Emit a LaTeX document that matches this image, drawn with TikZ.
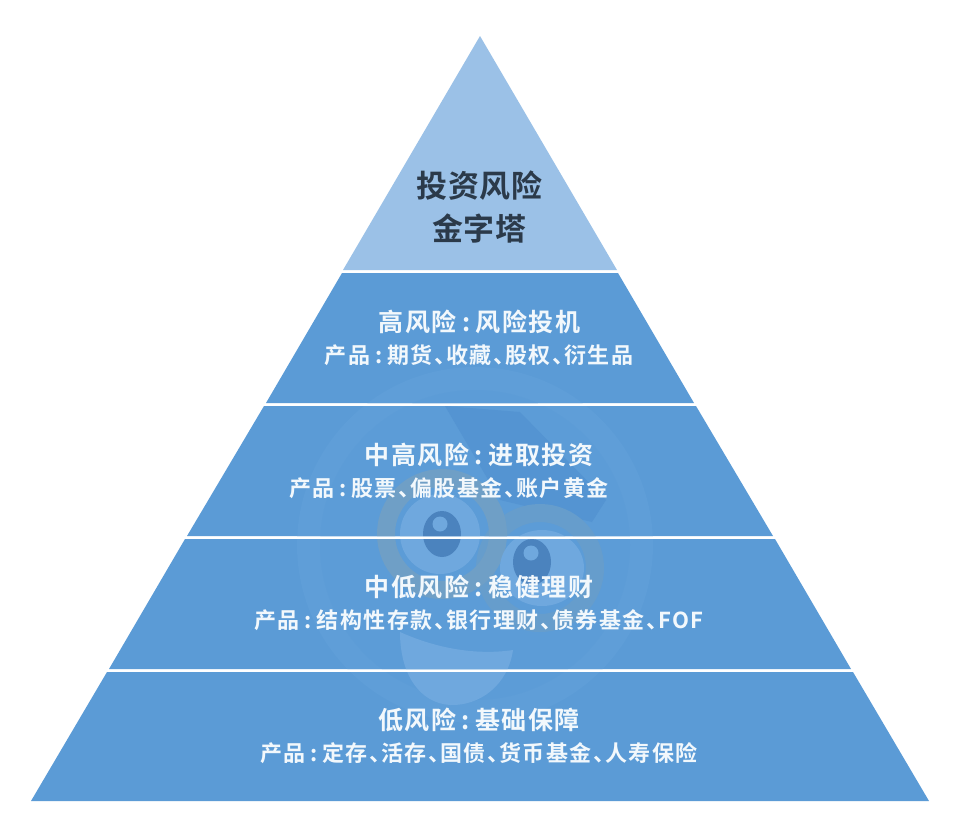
\documentclass[tikz,border=0pt]{standalone}
\usepackage{fontspec}
\setmainfont{Noto Sans CJK SC}
\newfontfamily\cjkhead[BoldFont=* Bold,LetterSpace=6]{Noto Sans CJK SC}
\newfontfamily\cjksub[BoldFont=* Bold,LetterSpace=7]{Noto Sans CJK SC}
\newfontfamily\cjktop[BoldFont=* Bold,LetterSpace=3]{Noto Sans CJK SC}
\newcommand{\BandTitle}{\fontsize{25}{28}\selectfont\cjkhead\bfseries}
\newcommand{\BandSub}{\fontsize{22}{25}\selectfont\cjksub\bfseries}
\newcommand{\TopTitle}{\fontsize{31}{36}\selectfont\cjktop\bfseries}
\newcommand{\cn}{\kern.22em:\kern.22em}
\newcommand{\dn}{、\kern-.46em}
\definecolor{topblue}{HTML}{9BC1E7}
\definecolor{bandblue}{HTML}{5B9BD6}
\definecolor{marklight}{HTML}{6FA8DE}
\definecolor{markwash}{HTML}{5F9ED8}
\definecolor{markhat}{HTML}{5494D2}
\definecolor{markdark}{HTML}{4B83BE}
\definecolor{markring}{HTML}{6F9FC6}
\definecolor{markringb}{HTML}{669DCC}
\definecolor{darktext}{HTML}{2B3A4A}
\definecolor{lighttext}{HTML}{F2F8FC}
\begin{document}
\begin{tikzpicture}[x=1pt,y=-1pt,
  cap1/.style={font=\TopTitle,text=darktext,inner sep=0pt},
  headline/.style={font=\BandTitle,text=lighttext,inner sep=0pt},
  subline/.style={font=\BandSub,text=lighttext,inner sep=0pt}]
\useasboundingbox (0,0) rectangle (960,839);
\fill[white] (0,0) rectangle (960,839);
% pyramid
\fill[topblue] (480,36) -- (617,270) -- (343,270) -- cycle;
\fill[bandblue] (342,273) -- (618,273) -- (694,403) -- (266,403) -- cycle;
\fill[bandblue] (264,406) -- (696,406) -- (773,536) -- (187,536) -- cycle;
\fill[bandblue] (185,539) -- (775,539) -- (851,669) -- (109,669) -- cycle;
\fill[bandblue] (107,672) -- (853,672) -- (929,801) -- (31,801) -- cycle;
% faint watermark, clipped to the bands
\begin{scope}
\clip (342,273) -- (618,273) -- (694,403) -- (266,403) -- cycle
      (264,406) -- (696,406) -- (773,536) -- (187,536) -- cycle
      (185,539) -- (775,539) -- (851,669) -- (109,669) -- cycle
      (107,672) -- (853,672) -- (929,801) -- (31,801) -- cycle;
\fill[markwash] (475,545) circle[radius=178];
\fill[bandblue!70!markwash] (475,545) circle[radius=155];
\fill[markhat] (445,406) -- (520,412) -- (606,500) -- (592,522) -- (500,500) -- cycle;
\fill[marklight] (400,632) .. controls (440,650) and (480,655) .. (513,650)
   .. controls (508,685) and (480,706) .. (450,705)
   .. controls (420,703) and (400,675) .. (400,632) -- cycle;
\draw[markringb,line width=18pt] (540,568) circle[radius=55];
\draw[markring,line width=18pt] (442,534) circle[radius=56];
\fill[marklight] (440,534) ellipse[x radius=40,y radius=40];
\fill[marklight] (542,568) ellipse[x radius=42,y radius=38];
\fill[markdark] (442,534) ellipse[x radius=19,y radius=23];
\fill[markdark] (532,562) ellipse[x radius=19,y radius=23];
\fill[marklight] (440,524) circle[radius=7.5];
\fill[marklight] (531,553) circle[radius=7.5];
\end{scope}
% labels
\node[cap1] (t1) at (479.5,186) {投资风险};
\node[cap1] (t2) at (479.5,229) {金字塔};
\node[headline] (a1) at (479.5,322) {高风险\cn 风险投机};
\node[subline] (a2) at (479,355) {产品\cn 期货\dn 收藏\dn 股权\dn 衍生品};
\node[headline] (b1) at (479,455) {中高风险\cn 进取投资};
\node[subline] (b2) at (449,488) {产品\cn 股票\dn 偏股基金\dn 账户黄金};
\node[headline] (c1) at (479,587) {中低风险\cn 稳健理财};
\node[subline] (c2) at (479,620) {产品\cn 结构性存款\dn 银行理财\dn 债券基金\dn FOF};
\node[headline] (d1) at (479,720) {低风险\cn 基础保障};
\node[subline] (d2) at (479,753) {产品\cn 定存\dn 活存\dn 国债\dn 货币基金\dn 人寿保险};
\end{tikzpicture}
\end{document}
